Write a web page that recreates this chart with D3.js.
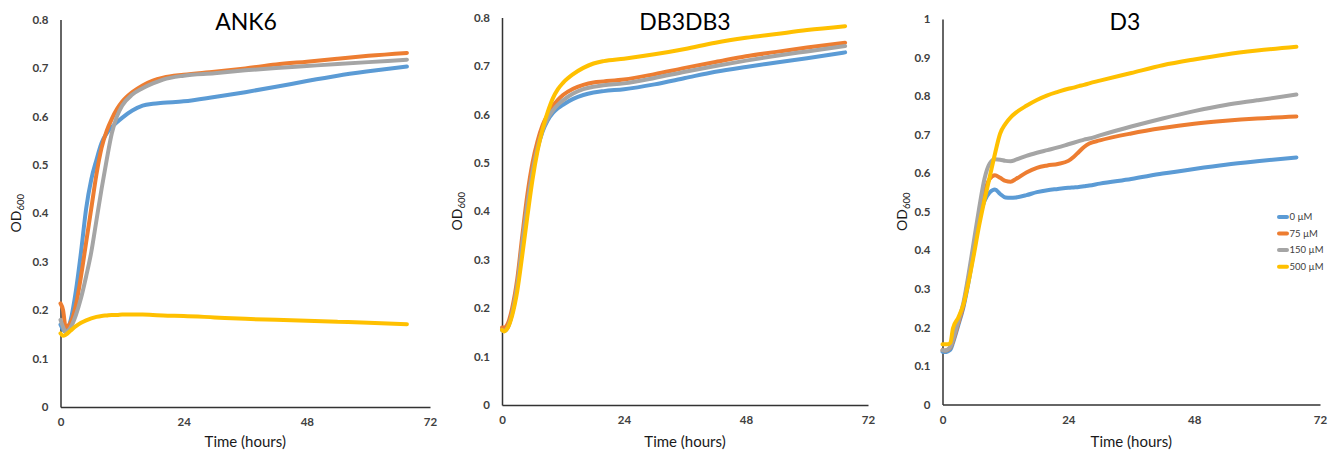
<!DOCTYPE html>
<html><head><meta charset="utf-8">
<script src="https://cdn.jsdelivr.net/npm/d3@7"></script>
<style>body{margin:0;background:#fff}svg{display:block}text{font-family:Lato,"Open Sans",sans-serif}</style>
</head><body>
<svg id="c" width="1338" height="452"></svg>
<script>
const seriesNames = ["0 µM", "75 µM", "150 µM", "500 µM"];
const seriesColors = ["#5B9BD5", "#ED7D31", "#A5A5A5", "#FFC000"];
const xTicks = [0, 24, 48, 72];

// ANK6
const timeANK6 = [0,0.5,1,2,3,4,5,6,7,8,9,10,11,12,14,16,18,20,24,30,36,42,48,54,60,67.5];
const ank6_0   = [0.17,0.16,0.155,0.18,0.24,0.32,0.41,0.47,0.51,0.545,0.565,0.578,0.588,0.597,0.612,0.622,0.626,0.628,0.631,0.64,0.65,0.661,0.673,0.684,0.693,0.703];
const ank6_75  = [0.214,0.20,0.165,0.175,0.21,0.27,0.34,0.41,0.48,0.535,0.57,0.595,0.615,0.63,0.65,0.664,0.674,0.68,0.686,0.692,0.699,0.707,0.713,0.719,0.725,0.731];
const ank6_150 = [0.18,0.165,0.155,0.165,0.19,0.225,0.27,0.32,0.385,0.45,0.51,0.565,0.6,0.622,0.645,0.658,0.668,0.676,0.684,0.689,0.695,0.7,0.704,0.708,0.712,0.717];
const ank6_500 = [0.152,0.147,0.149,0.158,0.167,0.174,0.179,0.183,0.186,0.188,0.189,0.19,0.19,0.191,0.191,0.191,0.19,0.189,0.188,0.185,0.182,0.18,0.178,0.176,0.174,0.171];

// DB3DB3
const timeDB3 = [0,0.5,1,2,3,4,5,6,7,8,9,10,11,12,14,16,18,20,24,30,36,42,48,54,60,67.5];
const db3_0   = [0.155,0.153,0.158,0.19,0.245,0.33,0.41,0.48,0.53,0.565,0.588,0.603,0.613,0.62,0.632,0.64,0.645,0.648,0.652,0.662,0.675,0.688,0.698,0.707,0.716,0.728];
const db3_75  = [0.16,0.16,0.165,0.2,0.26,0.35,0.435,0.5,0.545,0.578,0.6,0.617,0.63,0.64,0.653,0.661,0.666,0.668,0.672,0.683,0.696,0.708,0.72,0.729,0.738,0.748];
const db3_150 = [0.155,0.153,0.158,0.19,0.248,0.335,0.415,0.482,0.532,0.568,0.592,0.608,0.62,0.629,0.643,0.652,0.657,0.66,0.664,0.675,0.688,0.7,0.711,0.721,0.73,0.741];
const db3_500 = [0.155,0.152,0.157,0.185,0.235,0.31,0.39,0.465,0.525,0.57,0.605,0.633,0.652,0.665,0.683,0.696,0.705,0.71,0.715,0.724,0.735,0.748,0.758,0.766,0.774,0.782];

// D3
const timeD3 = [0,0.5,1,1.5,2,3,4,5,6,7,8,9,10,11,12,13,14,16,18,20,22,24,25,26,27,28,30,36,42,48,54,60,67.5];
const d3_0   = [0.137,0.136,0.138,0.142,0.16,0.205,0.253,0.32,0.4,0.48,0.528,0.55,0.558,0.546,0.537,0.536,0.537,0.543,0.551,0.556,0.559,0.562,0.563,0.564,0.566,0.568,0.573,0.585,0.599,0.611,0.622,0.631,0.641];
const d3_75  = [0.141,0.14,0.142,0.148,0.165,0.21,0.258,0.33,0.41,0.49,0.55,0.585,0.595,0.588,0.58,0.578,0.585,0.602,0.614,0.62,0.624,0.632,0.642,0.655,0.668,0.677,0.685,0.703,0.717,0.728,0.736,0.742,0.747];
const d3_150 = [0.141,0.14,0.143,0.15,0.168,0.215,0.265,0.34,0.425,0.51,0.585,0.625,0.636,0.635,0.632,0.631,0.635,0.645,0.653,0.66,0.667,0.675,0.679,0.683,0.687,0.69,0.698,0.721,0.742,0.761,0.777,0.789,0.804];
const d3_500 = [0.156,0.156,0.156,0.16,0.198,0.225,0.26,0.32,0.39,0.465,0.53,0.59,0.65,0.703,0.728,0.745,0.757,0.775,0.79,0.802,0.811,0.819,0.822,0.826,0.829,0.833,0.84,0.86,0.88,0.895,0.908,0.918,0.928];

const panels = [
  {title:"ANK6", time:timeANK6, series:[ank6_0,ank6_75,ank6_150,ank6_500], yMax:0.8, yStep:0.1,
   x0:60.5, x1:430, yTop:19.5, yBot:407, titleX:246, odX:16, legend:false},
  {title:"DB3DB3", time:timeDB3, series:[db3_0,db3_75,db3_150,db3_500], yMax:0.8, yStep:0.1,
   x0:502, x1:868, yTop:17.5, yBot:405, titleX:685, odX:457, legend:false},
  {title:"D3", time:timeD3, series:[d3_0,d3_75,d3_150,d3_500], yMax:1, yStep:0.1,
   x0:942.5, x1:1320, yTop:19, yBot:404.5, titleX:1125, odX:902, legend:true}
];

const svg = d3.select("#c");
const tickColor = "#404040";
const font = "Lato,'Open Sans',sans-serif";

panels.forEach(p => {
  const x = d3.scaleLinear().domain([0,72]).range([p.x0,p.x1]);
  const y = d3.scaleLinear().domain([0,p.yMax]).range([p.yBot,p.yTop]);
  const g = svg.append("g");

  const yt = d3.range(0, p.yMax + 1e-9, p.yStep).map(v => +v.toFixed(1));
  const yAxis = d3.axisLeft(y).tickValues(yt).tickSize(0).tickPadding(12)
     .tickFormat(v => v === 0 ? "0" : (v === 1 ? "1" : d3.format(".1f")(v)));
  const ya = g.append("g").attr("transform",`translate(${p.x0},0)`).call(yAxis);
  ya.select(".domain").attr("stroke","#333").attr("stroke-width",1.5);
  ya.selectAll("text").attr("fill",tickColor).style("font-size","11.5px").style("font-weight","700")
    .style("font-family",font);

  const xAxis = d3.axisBottom(x).tickValues(xTicks).tickSize(0).tickPadding(11).tickFormat(d3.format("d"));
  const xa = g.append("g").attr("transform",`translate(0,${p.yBot})`).call(xAxis);
  xa.select(".domain").attr("stroke","#333").attr("stroke-width",1.5);
  xa.selectAll("text").attr("fill",tickColor).style("font-size","11.5px").style("font-weight","700")
    .style("font-family",font);

  const line = d3.line().curve(d3.curveMonotoneX);
  p.series.forEach((vals,i) => {
    g.append("path")
      .attr("d", line(p.time.map((t,k) => [x(t), y(vals[k])])))
      .attr("fill","none").attr("stroke",seriesColors[i]).attr("stroke-width",4)
      .attr("stroke-linecap","round").attr("stroke-linejoin","round");
  });

  g.append("text").attr("x",p.titleX).attr("y",30).attr("text-anchor","middle")
    .style("font-size","23px").attr("fill","#000").text(p.title);

  g.append("text").attr("x",(p.x0+p.x1)/2).attr("y",447).attr("text-anchor","middle")
    .style("font-size","15px").attr("fill","#1a1a1a").text("Time (hours)");

  const od = g.append("text").attr("transform",`translate(${p.odX+5},${(p.yTop+p.yBot)/2}) rotate(-90)`)
    .attr("text-anchor","middle").style("font-size","14px").attr("fill","#1a1a1a");
  od.append("tspan").text("OD");
  od.append("tspan").attr("dy",3).style("font-size","9.5px").text("600");

  if (p.legend) {
    const ly = [217, 233.5, 250, 266.7];
    seriesNames.forEach((n,i) => {
      g.append("line").attr("x1",1279).attr("x2",1287).attr("y1",ly[i]).attr("y2",ly[i])
        .attr("stroke",seriesColors[i]).attr("stroke-width",4).attr("stroke-linecap","round");
      g.append("text").attr("x",1289.5).attr("y",ly[i]+3.3).style("font-size","9.5px")
        .attr("fill",tickColor).text(n);
    });
  }
});
</script>
</body></html>
